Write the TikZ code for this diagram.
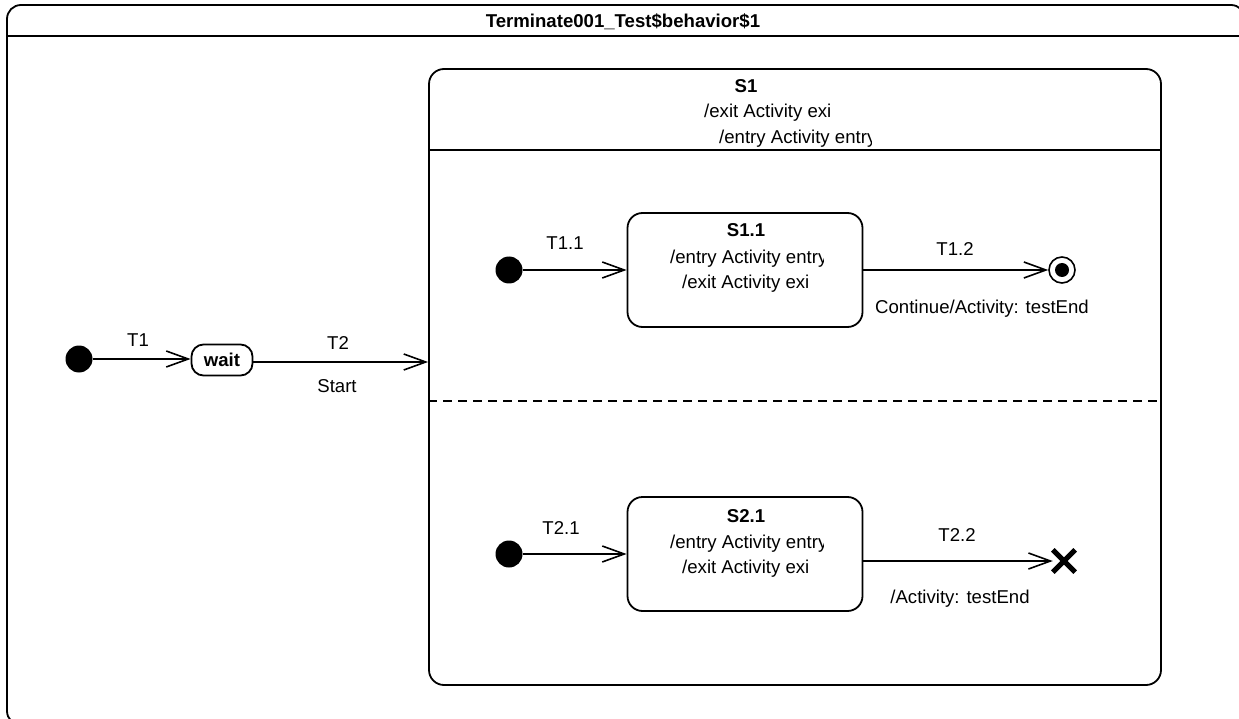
\documentclass[tikz,border=0pt]{standalone}
\usepackage{fontspec}
\setmainfont{Liberation Sans}
\usetikzlibrary{arrows.meta}
\begin{document}
\begin{tikzpicture}[x=1pt,y=-1pt,
  font=\fontsize{18.6}{21}\selectfont,
  thick line/.style={line width=1.8pt},
  trans/.style={line width=1.8pt,-{Straight Barb[length=22pt,width=16pt,line width=1.6pt]}},
  init/.style={circle,fill=black,minimum size=27pt,inner sep=0pt},
  statebox/.style={draw,line width=1.8pt,rounded corners=15pt,minimum width=235pt,minimum height=114pt,inner sep=0pt},
  lbl/.style={inner sep=0pt,anchor=base},
  bold lbl/.style={inner sep=0pt,anchor=base,font=\fontsize{18.6}{21}\selectfont\bfseries}]
\useasboundingbox (0,0) rectangle (1239,719);
% outer frame
\node[draw,line width=1.8pt,rounded corners=14pt,minimum width=1238pt,minimum height=720pt,inner sep=0pt] (frame) at (626,365) {};
\coordinate (tl) at (7,36);
\coordinate (tr) at (1245,36);
\draw[thick line] (tl) -- (tr);
\node[bold lbl] (title) at (623,28) {Terminate001\_Test\$behavior\$1};

% S1 composite
\node[draw,line width=1.8pt,rounded corners=15pt,minimum width=732pt,minimum height=616pt,inner sep=0pt] (S1) at (795,377) {};
\node[bold lbl] (s1name) at (746,93) {S1};
\node[lbl,anchor=base west] (s1exit) at (704,118) {/exit Activity exi};
\begin{scope}
\clip (700,122) rectangle (871,149);
\node[lbl,anchor=base west] (s1entry) at (719,144) {/entry Activity entry};
\end{scope}
\draw[thick line] (S1.west |- 0,150) -- (S1.east |- 0,150);
\draw[line width=1.6pt,dash pattern=on 9pt off 6pt] (S1.west |- 0,401) -- (S1.east |- 0,401);

% top level
\node[init] (i0) at (79,359) {};
\node[draw,line width=1.8pt,rounded corners=12pt,minimum width=61pt,minimum height=31pt,inner sep=0pt,font=\fontsize{18.6}{21}\selectfont\bfseries] (wait) at (222,360) {wait};
\draw[trans] (i0) -- (i0 -| wait.west);
\node[lbl] (t1) at (138,346) {T1};
\draw[trans] (wait.east |- 0,362) -- (S1.west |- 0,362);
\node[lbl] (t2) at (338,349) {T2};
\node[lbl] (start) at (337,392) {Start};

% region 1
\node[init] (i1) at (509,270) {};
\node[statebox] (s11) at (745,270) {};
\node[bold lbl] (s11name) at (746,237) {S1.1};
\begin{scope}
\clip (660,242) rectangle (823,269);
\node[lbl,anchor=base west] (s11entry) at (670,264) {/entry Activity entry};
\end{scope}
\node[lbl,anchor=base west] (s11exit) at (682,289) {/exit Activity exi};
\draw[trans] (i1) -- (s11);
\node[lbl] (t11) at (565,250) {T1.1};
\node[circle,draw,line width=1.6pt,minimum size=26pt,inner sep=0pt] (fin) at (1062,270) {};
\fill (fin.center) circle (7pt);
\draw[trans] (s11) -- (fin);
\node[lbl] (t12) at (955,256) {T1.2};
\node[lbl] (c12) at (982,313) {Continue/Activity: testEnd};

% region 2
\node[init] (i2) at (509,554) {};
\node[statebox] (s21) at (745,554) {};
\node[bold lbl] (s21name) at (746,522) {S2.1};
\begin{scope}
\clip (660,527) rectangle (823,553);
\node[lbl,anchor=base west] (s21entry) at (670,548) {/entry Activity entry};
\end{scope}
\node[lbl,anchor=base west] (s21exit) at (682,573) {/exit Activity exi};
\draw[trans] (i2) -- (s21);
\node[lbl] (t21) at (561,534) {T2.1};
\node[minimum size=22pt,inner sep=0pt] (term) at (1064,561) {};
\draw[line width=5pt] (term.north west) -- (term.south east) (term.north east) -- (term.south west);
\draw[trans] (s21.east |- term.west) -- (term.west);
\node[lbl] (t22) at (957,541) {T2.2};
\node[lbl] (c22) at (960,603) {/Activity: testEnd};
\end{tikzpicture}
\end{document}
